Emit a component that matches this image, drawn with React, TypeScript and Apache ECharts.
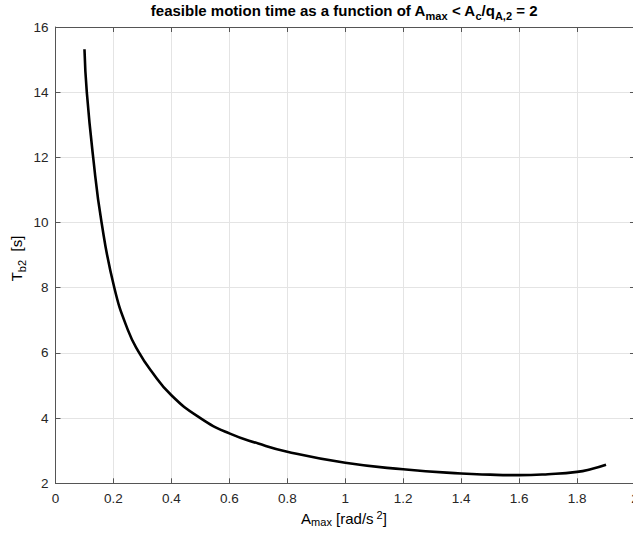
import React, { useEffect, useRef } from "react";
import * as echarts from "echarts";

// A_max [rad/s^2]
const aMax = [0.1, 0.108, 0.13, 0.159, 0.203, 0.25, 0.289, 0.326, 0.4, 0.5, 0.6, 0.7, 0.8, 1.0, 1.2, 1.4, 1.5, 1.6, 1.7, 1.8, 1.85, 1.9];
// T_b2 [s]
const tB2 = [15.32, 14.0, 12.0, 10.0, 8.0, 6.7, 6.0, 5.5, 4.7, 4.0, 3.53, 3.22, 2.97, 2.63, 2.43, 2.3, 2.265, 2.25, 2.28, 2.35, 2.44, 2.57];

const FONT = "Liberation Sans, Arial, Helvetica, sans-serif";
const AXIS_COLOR = "#555555";
const TEXT_COLOR = "#262626";
const GRID_COLOR = "#e4e4e4";

export default function App() {
  const ref = useRef<HTMLDivElement>(null);
  useEffect(() => {
    if (!ref.current) return;
    const chart = echarts.init(ref.current, null, { renderer: "svg" });
    const axisLine = { show: true, onZero: false, lineStyle: { color: AXIS_COLOR, width: 1 } };
    const tick = { show: true, inside: true, length: 5, lineStyle: { color: AXIS_COLOR, width: 1 } };
    const label = { color: TEXT_COLOR, fontSize: 13.5, fontFamily: FONT };
    const main = { fontSize: 15, fontFamily: FONT, color: "#000" };
    const sub = { fontSize: 11, fontFamily: FONT, color: "#000" };
    chart.setOption({
      animation: false,
      backgroundColor: "#ffffff",
      grid: {
        left: 55.5, top: 27, width: 579.5, height: 456.3,
        containLabel: false, outerBoundsMode: "none",
      },
      xAxis: [
        {
          type: "value", min: 0, max: 2, interval: 0.2, position: "bottom",
          axisLine, axisTick: tick,
          axisLabel: { ...label, margin: 8, showMaxLabel: true, showMinLabel: true },
          splitLine: { show: true, lineStyle: { color: GRID_COLOR, width: 1 } },
        },
        {
          type: "value", min: 0, max: 2, interval: 0.2, position: "top",
          axisLine, axisTick: tick, axisLabel: { show: false }, splitLine: { show: false },
        },
      ],
      yAxis: [
        {
          type: "value", min: 2, max: 16, interval: 2, position: "left",
          axisLine, axisTick: tick,
          axisLabel: { ...label, margin: 7 },
          splitLine: { show: true, lineStyle: { color: GRID_COLOR, width: 1 } },
        },
        {
          type: "value", min: 2, max: 16, interval: 2, position: "right",
          axisLine, axisTick: tick, axisLabel: { show: false }, splitLine: { show: false },
        },
      ],
      series: [
        {
          type: "line",
          xAxisIndex: 0,
          yAxisIndex: 0,
          data: aMax.map((a, i) => [a, tB2[i]]),
          smooth: 0.5,
          showSymbol: false,
          symbol: "none",
          lineStyle: { color: "#000000", width: 2.6 },
        },
      ],
      graphic: [
        {
          type: "text",
          x: 344,
          y: 3,
          style: {
            text: "{b|feasible motion time as a function of A}{s|max}{b| < A}{s|c}{b|/q}{s|A,2}{b| = 2}",
            align: "center",
            verticalAlign: "top",
            rich: {
              b: { ...main, fontWeight: "bold", verticalAlign: "top", lineHeight: 18 },
              s: { ...sub, fontWeight: "bold", verticalAlign: "bottom", lineHeight: 1 },
            },
          },
        },
        {
          type: "text",
          x: 344,
          y: 518.5,
          style: {
            text: "{m|A}{s|max}{m| [rad/s}{p| 2}{m|]}",
            align: "center",
            verticalAlign: "middle",
            rich: {
              m: { ...main, color: TEXT_COLOR, verticalAlign: "middle", lineHeight: 18 },
              s: { ...sub, color: TEXT_COLOR, verticalAlign: "bottom", lineHeight: 3 },
              p: { ...sub, color: TEXT_COLOR, verticalAlign: "top", lineHeight: 3 },
            },
          },
        },
        {
          type: "text",
          x: 18,
          y: 258.5,
          rotation: Math.PI / 2,
          style: {
            text: "{m|T}{s|b2}{m|  [s]}",
            align: "center",
            verticalAlign: "middle",
            rich: {
              m: { ...main, color: TEXT_COLOR, verticalAlign: "top", lineHeight: 18 },
              s: { ...sub, color: TEXT_COLOR, verticalAlign: "bottom", lineHeight: 1 },
            },
          },
        },
      ],
    });
    return () => chart.dispose();
  }, []);
  return (
    <div
      ref={ref}
      style={{ position: "fixed", left: 0, top: 0, width: 633, height: 536, background: "#fff" }}
    />
  );
}
